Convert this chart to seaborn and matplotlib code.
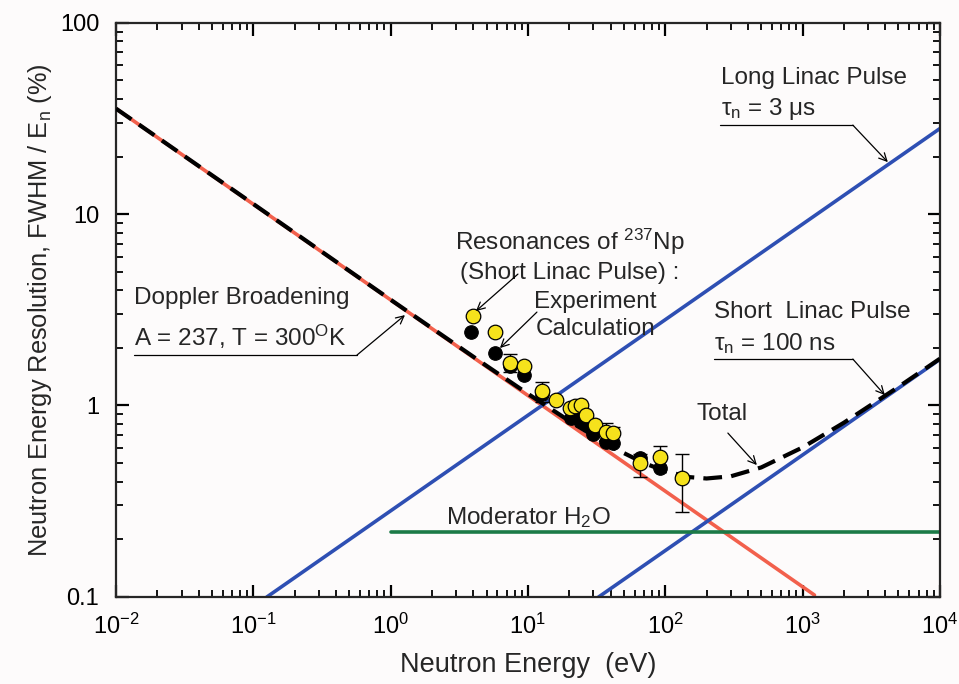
import numpy as np
import pandas as pd
import matplotlib
matplotlib.use("Agg")
import matplotlib.pyplot as plt
import seaborn as sns

# ---------------- data ----------------
doppler_E = [0.01, 1222]
doppler_R = [35.6, 0.102]

long_E = [0.125, 1e4]
long_R = [0.0995, 28.0]

short_E = [32.6, 1e4]
short_R = [0.0995, 1.74]

moder_E = [1.0, 1e4]
moder_R = [0.218, 0.218]

total_E = [0.01, 0.1, 1, 5, 10, 20, 40, 70, 100, 150, 200, 300, 500, 1000, 2000, 5000, 10000]
total_R = [35.6, 11.3, 3.57, 1.61, 1.15, 0.83, 0.61, 0.50, 0.453, 0.422, 0.415, 0.426,
           0.474, 0.603, 0.812, 1.25, 1.754]

exp_E = [3.95, 5.73, 7.46, 9.31, 12.6, 16.1, 20.1, 21.9, 24.5, 26.7, 30.6, 36.8, 41.6, 65.9, 92.0, 133.0]
exp_R = [2.93, 2.42, 1.66, 1.60, 1.19, 1.07, 0.964, 0.99, 1.0, 0.89, 0.79, 0.73, 0.72, 0.50, 0.535, 0.415]
exp_lo = [2.93, 2.42, 1.50, 1.60, 1.04, 1.07, 0.964, 0.99, 1.0, 0.89, 0.79, 0.73, 0.72, 0.42, 0.535, 0.278]
exp_hi = [2.93, 2.42, 1.85, 1.60, 1.32, 1.07, 0.964, 0.99, 1.0, 0.89, 0.79, 0.81, 0.77, 0.56, 0.61, 0.555]

calc_E = [3.88, 5.73, 7.46, 9.31, 12.6, 20.7, 21.9, 24.0, 26.7, 29.9, 36.8, 41.6, 65.9, 92.0]
calc_R = [2.43, 1.89, 1.60, 1.44, 1.15, 0.86, 0.87, 0.83, 0.805, 0.71, 0.645, 0.64, 0.53, 0.47]

xticks = [1e-2, 1e-1, 1e0, 1e1, 1e2, 1e3, 1e4]
xtick_labels = ["10$^{-2}$", "10$^{-1}$", "10$^{0}$", "10$^{1}$", "10$^{2}$", "10$^{3}$", "10$^{4}$"]
yticks = [0.1, 1, 10, 100]
ytick_labels = ["0.1", "1", "10", "100"]

# ---------------- style ----------------
sns.set_style("ticks")
plt.rcParams["font.family"] = ["Liberation Sans", "DejaVu Sans"]
plt.rcParams["mathtext.fontset"] = "custom"
plt.rcParams["mathtext.rm"] = "Liberation Sans"
plt.rcParams["mathtext.it"] = "Liberation Sans:italic"
plt.rcParams["mathtext.default"] = "regular"

RED = "#f2604c"
BLUE = "#2e4fb3"
GREEN = "#1c7a47"
YELLOW = "#f6e21c"
FS = 17.5

fig = plt.figure(figsize=(9.59, 6.84), dpi=100)
fig.patch.set_facecolor("#fdfbfb")
ax = fig.add_axes([0.121, 0.1276, 0.859, 0.839])
ax.set_facecolor("#fdfbfb")
ax.set_xscale("log")
ax.set_yscale("log")
ax.set_xlim(1e-2, 1e4)
ax.set_ylim(0.1, 100)


def df(E, R):
    return pd.DataFrame({"E": E, "R": R})


sns.lineplot(data=df(doppler_E, doppler_R), x="E", y="R", ax=ax, color=RED, lw=2.6,
             estimator=None, sort=False, zorder=2)
sns.lineplot(data=df(long_E, long_R), x="E", y="R", ax=ax, color=BLUE, lw=2.6,
             estimator=None, sort=False, zorder=2)
sns.lineplot(data=df(short_E, short_R), x="E", y="R", ax=ax, color=BLUE, lw=2.6,
             estimator=None, sort=False, zorder=2)
sns.lineplot(data=df(moder_E, moder_R), x="E", y="R", ax=ax, color=GREEN, lw=2.6,
             estimator=None, sort=False, zorder=2)
sns.lineplot(data=df(total_E, total_R), x="E", y="R", ax=ax, color="black", lw=3.0,
             estimator=None, sort=False, zorder=3, dashes=False, linestyle=(0, (4.5, 2.2)))

sns.scatterplot(data=df(calc_E, calc_R), x="E", y="R", ax=ax, color="black", s=95,
                edgecolor="black", linewidth=0.8, zorder=4)
yerr = [np.array(exp_R) - np.array(exp_lo), np.array(exp_hi) - np.array(exp_R)]
ax.errorbar(exp_E, exp_R, yerr=yerr, fmt="none", ecolor="black", elinewidth=1.0,
            capsize=5, capthick=1.0, zorder=5)
sns.scatterplot(data=df(exp_E, exp_R), x="E", y="R", ax=ax, color=YELLOW, s=110,
                edgecolor="black", linewidth=0.9, zorder=6)

# axes styling
ax.set_xticks(xticks)
ax.set_xticklabels(xtick_labels)
ax.set_yticks(yticks)
ax.set_yticklabels(ytick_labels)
for s in ax.spines.values():
    s.set_linewidth(1.6)
ax.tick_params(which="both", direction="in", top=True, right=True, colors="black",
               labelsize=17)
ax.tick_params(which="major", length=9, width=1.6)
ax.tick_params(axis="x", which="major", pad=12)
ax.tick_params(axis="y", which="major", pad=12)
ax.tick_params(which="minor", length=5, width=1.3)
ax.set_xlabel("Neutron Energy  (eV)", fontsize=19.5, labelpad=10)
ax.set_ylabel("Neutron Energy Resolution, FWHM / E$_\\mathrm{n}$ (%)", fontsize=18.3, labelpad=4)
ax.grid(False)


# --------- annotations (layout positions given in figure pixels) ---------
X0, X1, Y0, Y1 = 116.0, 940.0, 596.7, 22.7


def P(px, py):
    lx = -2 + (px - X0) / (X1 - X0) * 6
    ly = -1 + (Y0 - py) / (Y0 - Y1) * 3
    return 10 ** lx, 10 ** ly


def label(px, py, s, ha="left"):
    x, y = P(px, py)
    ax.text(x, y, s, fontsize=FS, ha=ha, va="center", zorder=7)


def under(px0, px1, py):
    a = P(px0, py)
    b = P(px1, py)
    ax.plot([a[0], b[0]], [a[1], b[1]], color="black", lw=0.9, clip_on=False, zorder=7)


def arrow(p_from, p_to):
    ax.annotate("", xy=P(*p_to), xytext=P(*p_from),
                arrowprops=dict(arrowstyle="->", lw=0.9, color="black",
                                shrinkA=0, shrinkB=0, mutation_scale=14), zorder=7)


label(721, 78, "Long Linac Pulse")
label(721, 109, "τ$_\\mathrm{n}$ = 3 μs")
under(720, 853, 125)
arrow((853, 125), (888, 162))

label(714, 312, "Short  Linac Pulse")
label(714, 343, "τ$_\\mathrm{n}$ = 100 ns")
under(714, 853, 359)
arrow((853, 359), (885, 395))

label(697, 414, "Total")
arrow((728, 433), (757, 465))

label(446, 518, "Moderator H$_2$O")

label(570, 242, "Resonances of $^{237}$Np", ha="center")
label(570, 273, "(Short Linac Pulse) :", ha="center")
label(595, 302, "Experiment", ha="center")
label(596, 329, "Calculation", ha="center")
arrow((518, 274), (476, 311))
arrow((537, 312), (500, 348))

label(134, 298, "Doppler Broadening")
label(134, 337, "A = 237, T = 300$^\\mathrm{O}$K")
under(134, 357, 355)
arrow((357, 355), (405, 315))

fig.savefig("out.png", dpi=100, facecolor=fig.get_facecolor())
